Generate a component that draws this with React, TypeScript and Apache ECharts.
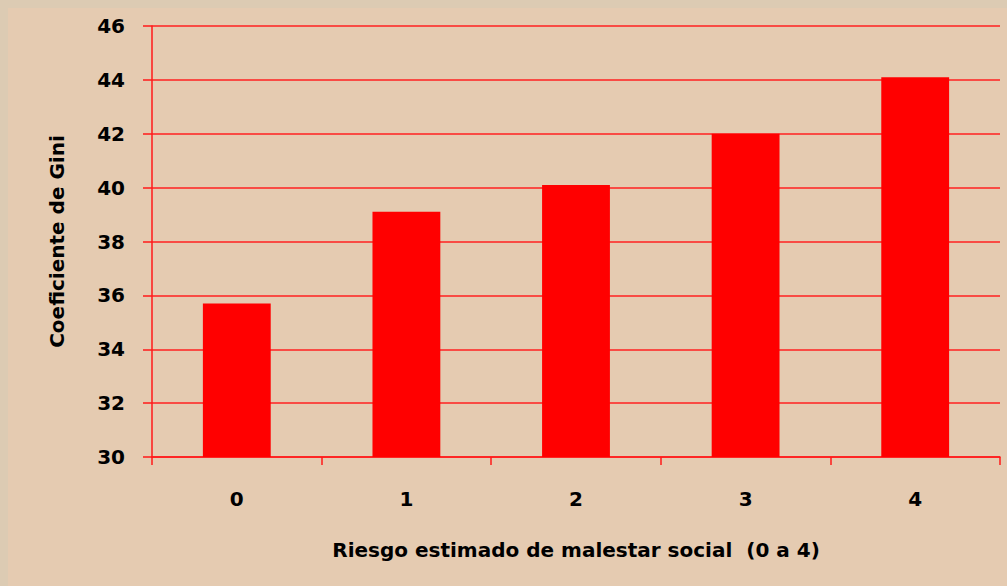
import React, { useEffect, useRef } from "react";
import * as echarts from "echarts";

const categories = ["0", "1", "2", "3", "4"];
const giniValues = [35.7, 39.1, 40.1, 42.0, 44.1];
const yAxisTitle = "Coeficiente de Gini";
const xAxisTitle = "Riesgo estimado de malestar social  (0 a 4)";

export default function App() {
  const ref = useRef<HTMLDivElement>(null);
  useEffect(() => {
    if (!ref.current) return;
    const chart = echarts.init(ref.current, undefined, { renderer: "svg" });
    const font = "'DejaVu Sans', Verdana, sans-serif";
    chart.setOption({
      animation: false,
      backgroundColor: "#E5CBB1",
      graphic: [
        {
          type: "rect",
          left: 0,
          top: 0,
          shape: { x: 0, y: 0, width: 1007, height: 586 },
          style: { fill: "none", stroke: "#DCCBB3", lineWidth: 8 },
          silent: true,
        },
      ],
      grid: { left: 152, right: 7, top: 26, bottom: 129, containLabel: false },
      xAxis: {
        type: "category",
        data: categories,
        name: xAxisTitle,
        nameLocation: "middle",
        nameGap: 83,
        nameTextStyle: { fontFamily: font, fontWeight: "bold", fontSize: 20, color: "#000" },
        axisLine: { show: true, lineStyle: { color: "#FF1A1A", width: 1.5 } },
        axisTick: { show: true, length: 8, lineStyle: { color: "#FF1A1A", width: 1.5 } },
        axisLabel: { margin: 32, fontFamily: font, fontWeight: "bold", fontSize: 20, color: "#000" },
        splitLine: { show: false },
      },
      yAxis: {
        type: "value",
        min: 30,
        max: 46,
        interval: 2,
        name: yAxisTitle,
        nameLocation: "middle",
        nameRotate: 90,
        nameGap: 85,
        nameTextStyle: { fontFamily: font, fontWeight: "bold", fontSize: 20, color: "#000" },
        axisLine: { show: true, lineStyle: { color: "#FF1A1A", width: 1.5 } },
        axisTick: { show: true, length: 9, lineStyle: { color: "#FF1A1A", width: 1.5 } },
        axisLabel: { margin: 27, fontFamily: font, fontWeight: "bold", fontSize: 20, color: "#000" },
        splitLine: { show: true, lineStyle: { color: "#FF2020", width: 1.5 } },
      },
      series: [
        {
          type: "bar",
          data: giniValues,
          barWidth: "40%",
          itemStyle: { color: "#FF0000" },
        },
      ],
    });
    return () => chart.dispose();
  }, []);
  return (
    <div
      ref={ref}
      style={{ position: "fixed", left: 0, top: 0, width: 1007, height: 586 }}
    />
  );
}
